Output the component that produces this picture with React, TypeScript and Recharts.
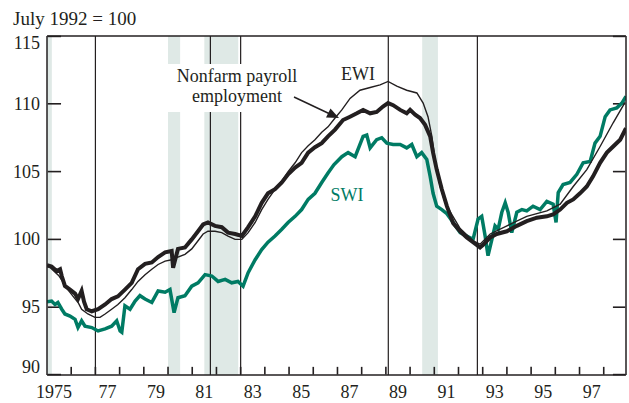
import React from "react";
import { LineChart, Line, XAxis, YAxis, ReferenceArea, ReferenceLine } from "recharts";

// index, July 1992 = 100
const ewiYears = [
  1975.0, 1975.19, 1975.4, 1975.54, 1975.61, 1975.74, 1975.95, 1976.16, 1976.28, 1976.43, 1976.53, 1976.64, 1976.85,
  1977.11, 1977.4, 1977.67, 1977.93, 1978.22, 1978.5, 1978.76, 1979.05, 1979.33, 1979.59, 1979.88, 1980.15, 1980.21,
  1980.41, 1980.7, 1980.98, 1981.24, 1981.45, 1981.65, 1981.94, 1982.22, 1982.48, 1982.77, 1983.05, 1983.31, 1983.6,
  1983.87, 1984.13, 1984.42, 1984.7, 1984.96, 1985.25, 1985.52, 1985.79, 1986.07, 1986.35, 1986.61, 1986.9, 1987.23,
  1987.52, 1987.8, 1988.06, 1988.35, 1988.62, 1988.88, 1989.09, 1989.3, 1989.59, 1989.86, 1990.0, 1990.21, 1990.41,
  1990.62, 1990.83, 1990.95, 1991.1, 1991.31, 1991.52, 1991.78, 1992.07, 1992.34, 1992.6, 1992.89, 1993.02, 1993.31,
  1993.58, 1994.0, 1994.41, 1994.82, 1995.24, 1995.65, 1995.91, 1996.2, 1996.48, 1996.74, 1997.02, 1997.3, 1997.56,
  1997.85, 1998.13, 1998.39, 1998.68, 1998.92,
];
const ewiValues = [
  98.1, 98.0, 97.67, 97.8, 97.3, 96.57, 96.3, 96.0, 95.6, 96.2, 95.4, 94.85, 94.7,
  94.85, 95.2, 95.6, 95.8, 96.3, 96.8, 97.8, 98.2, 98.3, 98.7, 99.05, 99.15, 97.9,
  99.3, 99.4, 100.0, 100.6, 101.1, 101.25, 101.0, 100.9, 100.5, 100.4, 100.25, 100.9, 101.7,
  102.7, 103.4, 103.7, 104.2, 104.8, 105.3, 105.65, 106.4, 106.8, 107.1, 107.6, 108.1, 108.8,
  109.05, 109.3, 109.55, 109.3, 109.4, 109.8, 110.05, 109.9, 109.55, 109.3, 109.55, 109.2, 108.95,
  108.45, 107.6, 106.4, 105.15, 103.7, 102.45, 101.2, 100.6, 100.15, 99.8, 99.4, 99.6, 100.15,
  100.4, 100.6, 101.0, 101.35, 101.6, 101.7, 101.85, 102.2, 102.7, 102.95, 103.4, 103.9, 104.65,
  105.65, 106.4, 106.85, 107.35, 108.2,
];

const payrollYears = [
  1975.0, 1975.15, 1975.5, 1975.9, 1976.3, 1976.43, 1976.69, 1976.98, 1977.19, 1977.4, 1977.67, 1977.93, 1978.22,
  1978.5, 1978.76, 1979.05, 1979.33, 1979.59, 1979.88, 1980.15, 1980.41, 1980.7, 1980.98, 1981.24, 1981.45, 1981.65,
  1981.94, 1982.22, 1982.48, 1982.77, 1983.05, 1983.31, 1983.6, 1983.87, 1984.13, 1984.42, 1984.7, 1984.96, 1985.25,
  1985.52, 1985.79, 1986.07, 1986.35, 1986.61, 1986.9, 1987.18, 1987.52, 1987.93, 1988.35, 1988.76, 1989.09, 1989.45,
  1989.86, 1990.28, 1990.54, 1990.74, 1990.9, 1991.03, 1991.24, 1991.45, 1991.72, 1992.07, 1992.6, 1992.89, 1993.31,
  1994.0, 1994.82, 1995.65, 1996.2, 1996.74, 1997.3, 1997.85, 1998.39, 1998.88,
];
const payrollValues = [
  98.0, 97.9, 97.3, 96.2, 95.3, 94.85, 94.5, 94.25, 94.25, 94.5, 94.85, 95.2, 95.7,
  96.3, 96.9, 97.4, 97.8, 98.15, 98.4, 98.5, 98.7, 98.9, 99.3, 99.9, 100.4, 100.6,
  100.6, 100.5, 100.25, 100.0, 100.0, 100.5, 101.25, 102.2, 102.95, 103.7, 104.3, 105.0, 105.65,
  106.4, 106.9, 107.35, 107.9, 108.3, 108.95, 109.55, 110.4, 111.0, 111.2, 111.4, 111.65, 111.3,
  111.0, 110.8, 110.05, 109.05, 107.6, 105.9, 103.9, 102.7, 101.85, 100.8, 99.9, 99.65, 100.4,
  101.0, 101.7, 102.1, 102.6, 103.9, 105.15, 106.85, 108.6, 110.1,
];

const swiYears = [
  1975.0, 1975.19, 1975.33, 1975.45, 1975.61, 1975.74, 1975.95, 1976.16, 1976.28, 1976.43, 1976.57, 1976.85, 1977.11,
  1977.4, 1977.67, 1977.88, 1978.02, 1978.09, 1978.22, 1978.43, 1978.64, 1978.84, 1979.05, 1979.33, 1979.59, 1979.88,
  1980.08, 1980.25, 1980.41, 1980.7, 1980.98, 1981.24, 1981.53, 1981.81, 1982.07, 1982.36, 1982.63, 1982.89, 1983.1,
  1983.31, 1983.6, 1983.87, 1984.13, 1984.42, 1984.7, 1984.96, 1985.25, 1985.52, 1985.79, 1986.07, 1986.35, 1986.61,
  1986.85, 1987.18, 1987.44, 1987.73, 1988.06, 1988.21, 1988.35, 1988.62, 1988.83, 1989.04, 1989.3, 1989.59, 1989.86,
  1990.07, 1990.28, 1990.48, 1990.69, 1990.83, 1990.95, 1991.1, 1991.31, 1991.52, 1991.78, 1992.07, 1992.34, 1992.6,
  1992.81, 1992.96, 1993.1, 1993.22, 1993.38, 1993.51, 1993.64, 1993.79, 1993.93, 1994.05, 1994.2, 1994.41, 1994.62,
  1994.82, 1995.08, 1995.37, 1995.65, 1995.91, 1996.03, 1996.12, 1996.32, 1996.61, 1996.89, 1997.15, 1997.44, 1997.64,
  1997.85, 1998.06, 1998.26, 1998.54, 1998.75, 1998.92,
];
const swiValues = [
  95.4, 95.45, 95.2, 95.35, 94.85, 94.5, 94.35, 94.1, 93.5, 94.0, 93.6, 93.5, 93.25,
  93.4, 93.6, 94.0, 93.25, 93.15, 95.1, 94.85, 95.45, 95.85, 95.6, 95.35, 96.2, 96.1,
  96.3, 94.6, 95.7, 95.85, 96.55, 96.8, 97.4, 97.3, 96.9, 97.05, 96.8, 96.9, 96.55,
  97.55, 98.5, 99.25, 99.8, 100.25, 100.75, 101.25, 101.7, 102.2, 102.95, 103.4, 104.2, 104.9,
  105.5, 106.1, 106.4, 106.1, 107.6, 107.7, 106.75, 107.35, 107.5, 107.1, 107.0, 107.0, 106.75,
  107.0, 106.1, 106.4, 105.9, 104.65, 103.4, 102.45, 102.2, 101.9, 101.25, 100.5, 100.25, 100.0,
  101.5, 101.7, 100.25, 98.8, 100.0, 101.0, 100.75, 102.0, 102.7, 102.0, 100.5, 102.0, 102.2,
  102.1, 102.45, 102.2, 102.8, 102.6, 101.25, 103.45, 104.05, 104.2, 104.8, 105.65, 105.75, 107.1,
  107.6, 109.05, 109.55, 109.7, 110.05, 110.55,
];

// shaded recessions and vertical markers
const shadedSpans = [
  [1975.0, 1975.2],
  [1980.0, 1980.5],
  [1981.5, 1982.9],
  [1990.5, 1991.15],
];
const markerYears = [1977.0, 1981.75, 1983.0, 1989.1, 1992.78];

const yTicks = [90, 95, 100, 105, 110, 115];
const yearTicks = [1976, 1977, 1978, 1979, 1980, 1981, 1982, 1983, 1984, 1985, 1986, 1987, 1988, 1989, 1990, 1991, 1992, 1993, 1994, 1995, 1996, 1997, 1998];
const labelYears = [1975.5, 1977.5, 1979.5, 1981.5, 1983.5, 1985.5, 1987.5, 1989.5, 1991.5, 1993.5, 1995.5, 1997.5];
const yearLabels = ["1975", "77", "79", "81", "83", "85", "87", "89", "91", "93", "95", "97"];

const INK = "#231f20";
const TEAL = "#007b64";
const BAND = "#dfe9e6";
const FONT = "'Liberation Serif', 'Times New Roman', serif";
const X0 = 1975;
const X1 = 1998.92;
const Y0 = 90;
const Y1 = 115;
// inward tick marks in axis units (about 8px up, 14px / 13px across), kept just inside the domain
const EPS_X = 0.03;
const EPS_Y = 0.03;
const X_TICK_LEN = 0.6;
const Y_TICK_LEN_L = 0.58;
const Y_TICK_LEN_R = 0.54;
const yInner = yTicks.map((t) => (t === Y0 ? Y0 + EPS_Y : t === Y1 ? Y1 - EPS_Y : t));

const zip = (xs: number[], ys: number[]) => xs.map((x, i) => ({ year: x, v: ys[i] }));

function LeftLabel(props: any) {
  const { x, y, payload } = props;
  const v = payload.value;
  const dy = v === 115 ? 7 : v === 90 ? -8 : 0;
  return (
    <text x={x - 7} y={y + dy} textAnchor="end" dominantBaseline="central" fontSize={18} fontFamily={FONT} fill={INK}>
      {v}
    </text>
  );
}

function YearLabel(props: any) {
  const { x, y, payload } = props;
  const li = labelYears.indexOf(payload.value);
  if (li < 0) return <g />;
  return (
    <text x={x + (li === 0 ? -5 : 0)} y={y + 23} textAnchor="middle" fontSize={18} fontFamily={FONT} fill={INK}>
      {yearLabels[li]}
    </text>
  );
}

export default function App() {
  return (
    <div style={{ position: "absolute", left: 0, top: 0, width: 629, height: 403, background: "#fff" }}>
      <LineChart width={629} height={403} margin={{ top: 36, right: 2, bottom: 0, left: 0 }}>
        <XAxis
          dataKey="year"
          type="number"
          domain={[X0, X1]}
          ticks={labelYears}
          interval={0}
          allowDataOverflow
          height={28}
          tickSize={0}
          tickMargin={0}
          tickLine={false}
          axisLine={{ stroke: INK, strokeWidth: 1.5 }}
          tick={YearLabel}
        />
        <YAxis
          yAxisId="l"
          domain={[Y0, Y1]}
          ticks={yTicks}
          allowDataOverflow
          width={47}
          tickSize={0}
          tickMargin={0}
          tickLine={false}
          axisLine={{ stroke: INK, strokeWidth: 1.5 }}
          tick={LeftLabel}
        />
        <YAxis
          yAxisId="r"
          orientation="right"
          domain={[Y0, Y1]}
          width={1}
          tickLine={false}
          tick={false}
          axisLine={{ stroke: INK, strokeWidth: 1.5 }}
        />
        {shadedSpans.map(([a, b]) => (
          <ReferenceArea key={a} yAxisId="l" x1={a} x2={b} y1={Y0} y2={Y1} fill={BAND} fillOpacity={1} stroke="none" />
        ))}
        {markerYears.map((m) => (
          <ReferenceLine key={m} yAxisId="l" x={m} stroke={INK} strokeWidth={1.2} />
        ))}
        <ReferenceLine yAxisId="l" y={Y1} stroke={INK} strokeWidth={1.5} />
        {yearTicks.map((t) => (
          <ReferenceLine
            key={"xt" + t}
            yAxisId="l"
            segment={[{ x: t, y: Y0 + EPS_Y }, { x: t, y: Y0 + X_TICK_LEN }]}
            stroke={INK}
            strokeWidth={1.6}
          />
        ))}
        {yInner.map((t) => (
          <ReferenceLine
            key={"yl" + t}
            yAxisId="l"
            segment={[{ x: X0 + EPS_X, y: t }, { x: X0 + Y_TICK_LEN_L, y: t }]}
            stroke={INK}
            strokeWidth={1.6}
          />
        ))}
        {yInner.map((t) => (
          <ReferenceLine
            key={"yr" + t}
            yAxisId="l"
            segment={[{ x: X1 - Y_TICK_LEN_R, y: t }, { x: X1 - EPS_X, y: t }]}
            stroke={INK}
            strokeWidth={1.6}
          />
        ))}
        <Line yAxisId="l" data={zip(swiYears, swiValues)} dataKey="v" type="linear" stroke={TEAL} strokeWidth={3.5} dot={false} isAnimationActive={false} />
        <Line yAxisId="l" data={zip(ewiYears, ewiValues)} dataKey="v" type="linear" stroke={INK} strokeWidth={4} dot={false} isAnimationActive={false} />
        <Line yAxisId="l" data={zip(payrollYears, payrollValues)} dataKey="v" type="linear" stroke={INK} strokeWidth={1.4} dot={false} isAnimationActive={false} />
      </LineChart>
      <svg width={629} height={403} style={{ position: "absolute", left: 0, top: 0, pointerEvents: "none" }}>
        <text x={13} y={25} fontSize={19} fontFamily={FONT} fill={INK}>
          July 1992 = 100
        </text>
        <rect x={161} y={64} width={145} height={48} fill="#fff" />
        <text x={237} y={82} textAnchor="middle" fontSize={18} fontFamily={FONT} fill={INK}>
          Nonfarm payroll
        </text>
        <text x={237} y={102} textAnchor="middle" fontSize={18} fontFamily={FONT} fill={INK}>
          employment
        </text>
        <line x1={294} y1={97} x2={330} y2={114} stroke={INK} strokeWidth={1.5} />
        <polygon points="339,118 326,117.5 330.5,108.5" fill={INK} />
        <text x={358} y={80} textAnchor="middle" fontSize={18} fontFamily={FONT} fill={INK}>
          EWI
        </text>
        <text x={347} y={201} textAnchor="middle" fontSize={18} fontFamily={FONT} fill={TEAL}>
          SWI
        </text>
      </svg>
    </div>
  );
}
